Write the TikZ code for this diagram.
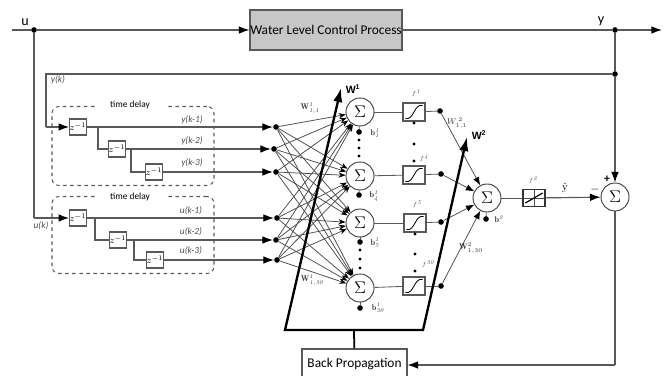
\documentclass[tikz,border=0pt]{standalone}
\usepackage{fontspec}
\setsansfont{Carlito}
\newfontfamily\arialfont{Liberation Sans}
\usetikzlibrary{arrows.meta}
\definecolor{linegray}{gray}{0.35}
\definecolor{procgray}{gray}{0.78}
\definecolor{labelgray}{gray}{0.3}
\tikzset{
  wire/.style={draw=linegray,line width=1pt},
  wirearrow/.style={wire,-{Latex[length=9pt,width=6.5pt,black]}},
  link/.style={draw=black!70,line width=0.65pt,-{Stealth[length=6pt,width=4.5pt,black]}},
  thickw/.style={draw=black,line width=2pt},
  jdot/.style={circle,fill=black,inner sep=0pt,minimum size=4.8pt},
  smalldot/.style={circle,fill=black,inner sep=0pt,minimum size=2.6pt},
  delaybox/.style={draw=linegray,dashed,line width=0.9pt,rounded corners=6pt,minimum width=4.86cm,minimum height=2.37cm},
  zbox/.style={draw=linegray,line width=1pt,fill=white,minimum width=0.48cm,minimum height=0.48cm,inner sep=0pt,font=\footnotesize},
  sumnode/.style={circle,draw=black!75,line width=0.8pt,fill=white,minimum size=0.84cm,inner sep=0pt,font=\Large},
  sigbox/.style={draw=linegray,line width=1.2pt,fill=white,minimum width=0.66cm,minimum height=0.53cm,inner sep=0pt,
    path picture={\draw[black,line width=0.7pt] ([xshift=2pt,yshift=2pt]path picture bounding box.south west)
      .. controls (path picture bounding box.south) and (path picture bounding box.north)
      .. ([xshift=-2pt,yshift=-2pt]path picture bounding box.north east);}},
  linbox/.style={draw=black!80,line width=1.1pt,fill=white,minimum width=0.66cm,minimum height=0.51cm,inner sep=0pt,
    path picture={\draw[black!70,line width=0.5pt] (path picture bounding box.west) -- (path picture bounding box.east)
      (path picture bounding box.south) -- (path picture bounding box.north);
      \draw[black,line width=1pt] ([xshift=2pt,yshift=3pt]path picture bounding box.south west)
      -- ([xshift=-2pt,yshift=-3pt]path picture bounding box.north east);}},
  siglabel/.style={font=\sffamily\itshape\footnotesize,text=labelgray,inner sep=0pt},
  main/.style={font=\sffamily\fontsize{12}{14}\selectfont,inner sep=0pt},
  wlabel/.style={font=\scriptsize,inner sep=0pt,text=black!80},
  flabel/.style={font=\tiny,inner sep=0pt,text=labelgray},
  delaytext/.style={fill=white,font=\sffamily\footnotesize,inner sep=2pt,minimum width=2.1cm},
}
\begin{document}
\begin{tikzpicture}[x=0.03cm,y=-0.03cm]
  \useasboundingbox (0,0) rectangle (666,376);

  % plant and top line
  \node[draw=linegray,line width=1pt,fill=procgray,minimum width=4.56cm,minimum height=1.2cm,inner sep=0pt,font=\sffamily\fontsize{11.4}{14}\selectfont] (plant) at (326,30) {Water Level Control Process};
  \coordinate (ustart) at (12,30);
  \coordinate (yend) at (662,30);
  \node[jdot] (ujoin) at (34,30) {};
  \node[jdot] (yjoin) at (615,30) {};
  \node[jdot] (fbjoin) at (615,74) {};
  \draw[wire] (ustart) -- (ujoin);
  \draw[wirearrow] (ujoin) -- (plant);
  \draw[wire] (plant) -- (yjoin);
  \draw[wirearrow] (yjoin) -- (yend);
  \draw[wire] (yjoin) -- (fbjoin);
  \node[main] (ulabel) at (25,22) {u};
  \node[main] (ylabel) at (601,21) {y};

  % time delay boxes
  \node[delaybox] (dly) at (133,146) {};
  \node[delaybox,minimum height=2.31cm] (dlu) at (133,235) {};
  \node[delaytext] (dlytext) at (130,105) {time delay};
  \node[delaytext] (dlutext) at (130,197) {time delay};

  % z blocks
  \node[zbox] (zy1) at (78,127) {$z^{-1}$};
  \node[zbox] (zy2) at (117,149) {$z^{-1}$};
  \node[zbox] (zy3) at (154,172) {$z^{-1}$};
  \node[zbox] (zu1) at (78,218) {$z^{-1}$};
  \node[zbox] (zu2) at (118,240) {$z^{-1}$};
  \node[zbox] (zu3) at (155,260) {$z^{-1}$};

  % input dots
  \node[jdot] (iny1) at (276,127) {};
  \node[jdot] (iny2) at (274,149) {};
  \node[jdot] (iny3) at (276,172) {};
  \node[jdot] (inu1) at (277,218) {};
  \node[jdot] (inu2) at (276,240) {};
  \node[jdot] (inu3) at (277,260) {};
  \foreach \z/\d in {zy1/iny1,zy2/iny2,zy3/iny3,zu1/inu1,zu2/inu2,zu3/inu3}
    \draw[wirearrow] (\z) -- (\d);

  % branches of the delay line
  \coordinate (bry1) at (98,127);
  \coordinate (bry2) at (131,149);
  \coordinate (bru1) at (95,218);
  \coordinate (bru2) at (134,240);
  \draw[wire] (bry1) |- (zy2);
  \draw[wire] (bry2) |- (zy3);
  \draw[wire] (bru1) |- (zu2);
  \draw[wire] (bru2) |- (zu3);

  % feedback and input to the delay lines
  \coordinate (ycorner) at (46,74);
  \coordinate (yin) at (46,127);
  \coordinate (ubend) at (34,218);
  \draw[wire] (fbjoin) -- (ycorner) -- (yin);
  \draw[wirearrow] (yin) -- (zy1);
  \draw[wire] (ujoin) -- (ubend);
  \draw[wirearrow] (ubend) -- (zu1);
  \node[siglabel] (ykl) at (58,80) {y(k)};
  \node[siglabel] (ukl) at (41,226) {u(k)};
  \foreach \n/\t/\yy in {1/y(k-1)/120,2/y(k-2)/141,3/y(k-3)/163}
    \node[siglabel] (ylab\n) at (192,\yy) {\t};
  \foreach \n/\t/\yy in {1/u(k-1)/211,2/u(k-2)/232,3/u(k-3)/251}
    \node[siglabel] (ulab\n) at (191,\yy) {\t};

  % first layer
  \node[sumnode] (s1) at (360,112) {$\Sigma$};
  \node[sumnode] (s4) at (360,176) {$\Sigma$};
  \node[sumnode] (s5) at (360,223) {$\Sigma$};
  \node[sumnode] (s30) at (360,288) {$\Sigma$};
  \foreach \i in {iny1,iny2,iny3,inu1,inu2,inu3}
    \foreach \s in {s1,s4,s5,s30}
      \draw[link] (\i) -- (\s);

  \node[sigbox] (f1) at (414,112) {};
  \node[sigbox] (f4) at (414,175) {};
  \node[sigbox] (f5) at (415,223) {};
  \node[sigbox] (f30) at (414,286) {};
  \node[jdot] (o1) at (440,111) {};
  \node[jdot] (o4) at (441,174) {};
  \node[jdot] (o5) at (441,222) {};
  \node[jdot] (o30) at (441,286) {};
  \foreach \s/\f/\o in {s1/f1/o1,s4/f4/o4,s5/f5/o5,s30/f30/o30} {
    \draw[wire,line width=0.7pt] (\s) -- (\f);
    \draw[wire,line width=0.7pt] (\f) -- (\o);
  }

  % bias dots
  \foreach \n/\xx/\yy in {1/359/132,4/359/195,5/360/242,30/360/308} {
    \node[jdot] (b\n) at (\xx,\yy) {};
    \draw[wire,line width=0.7pt] (s\n) -- (b\n);
  }
  \node[wlabel] (bl1) at (375,133) {$\mathbf{b}^{\mathit{1}}_{\mathit{1}}$};
  \node[wlabel] (bl4) at (374,196) {$\mathbf{b}^{\mathit{1}}_{\mathit{4}}$};
  \node[wlabel] (bl5) at (375,243) {$\mathbf{b}^{\mathit{1}}_{\mathit{5}}$};
  \node[wlabel] (bl30) at (378,308) {$\mathbf{b}^{\mathit{1}}_{\mathit{30}}$};

  % dots between the neurons
  \foreach \n/\xx/\yy in {a/359/140,b/359/148,c/359/156,d/360/250,e/360/259,f/360/268,g/414/123,h/414/144,i/414/161,j/415/234,k/415/254,l/415/271}
    \node[smalldot] (gap\n) at (\xx,\yy) {};

  \node[flabel] (fl1) at (416,93) {$f^{\mathit{1}}$};
  \node[flabel] (fl4) at (424,158) {$f^{\mathit{4}}$};
  \node[flabel] (fl5) at (417,204) {$f^{\mathit{5}}$};
  \node[flabel] (fl30) at (428,264) {$f^{\mathit{30}}$};

  % second layer
  \node[sumnode] (s2) at (487,198) {$\Sigma$};
  \node[linbox] (f2) at (534,198) {};
  \node[sumnode] (serr) at (615,197) {$\Sigma$};
  \foreach \o in {o1,o4,o5,o30}
    \draw[link,-{Latex[length=7pt,width=5.5pt,black]}] (\o) -- (s2);
  \node[jdot] (b2) at (486,219) {};
  \draw[wire,line width=0.7pt] (s2) -- (b2);
  \node[wlabel] (bl2) at (499,219) {$\mathbf{b}^{\mathit{2}}$};
  \draw[wire,line width=0.7pt] (s2) -- (f2);
  \draw[wirearrow] (f2) -- (serr);
  \draw[wirearrow] (fbjoin) -- (serr);
  \node[flabel] (fl2) at (533,180) {$f^{\mathit{2}}$};
  \node[font=\small,inner sep=0pt] (yhat) at (565,188) {$\hat{\mathrm{y}}$};
  \node[font=\bfseries,inner sep=0pt] (minus) at (595,190) {$-$};
  \node[font=\sffamily\bfseries,inner sep=0pt] (plus) at (607,179) {+};

  % weight layers
  \coordinate (w1tip) at (341,88);
  \coordinate (w2tip) at (467,137);
  \coordinate (wbl) at (285,330);
  \coordinate (wbr) at (423,330);
  \coordinate (wbm) at (354,330);
  \draw[thickw,{Latex[length=12pt,width=8pt]}-{Latex[length=12pt,width=8pt]}] (w1tip) -- (wbl) -- (wbr) -- (w2tip);
  \node[font=\arialfont\bfseries\small,inner sep=0pt] (w1lab) at (353,89) {W\textsuperscript{1}};
  \node[font=\arialfont\bfseries\small,inner sep=0pt] (w2lab) at (479,135) {W\textsuperscript{2}};
  \node[wlabel] (wl11) at (310,108) {$\mathbf{W}^{\mathit{1}}_{\mathit{1,1}}$};
  \node[wlabel] (wl130) at (312,280) {$\mathbf{W}^{\mathit{1}}_{\mathit{1,30}}$};
  \node[wlabel] (wl211) at (457,123) {$W^{\,2}_{1,1}$};
  \node[wlabel] (wl230) at (471,248) {$\mathbf{W}^{2}_{1,30}$};

  % back propagation
  \node[draw=linegray,line width=1pt,fill=white,minimum width=3.15cm,minimum height=0.9cm,inner sep=0pt,font=\sffamily\fontsize{11.4}{14}\selectfont] (bp) at (354.5,364) {Back Propagation};
  \draw[thickw,line width=1.5pt] (wbm) -- (bp);
  \coordinate (bpcorner) at (615,365);
  \draw[wire] (serr) -- (bpcorner);
  \draw[wirearrow] (bpcorner) -- (bp.east |- bpcorner);
\end{tikzpicture}
\end{document}
